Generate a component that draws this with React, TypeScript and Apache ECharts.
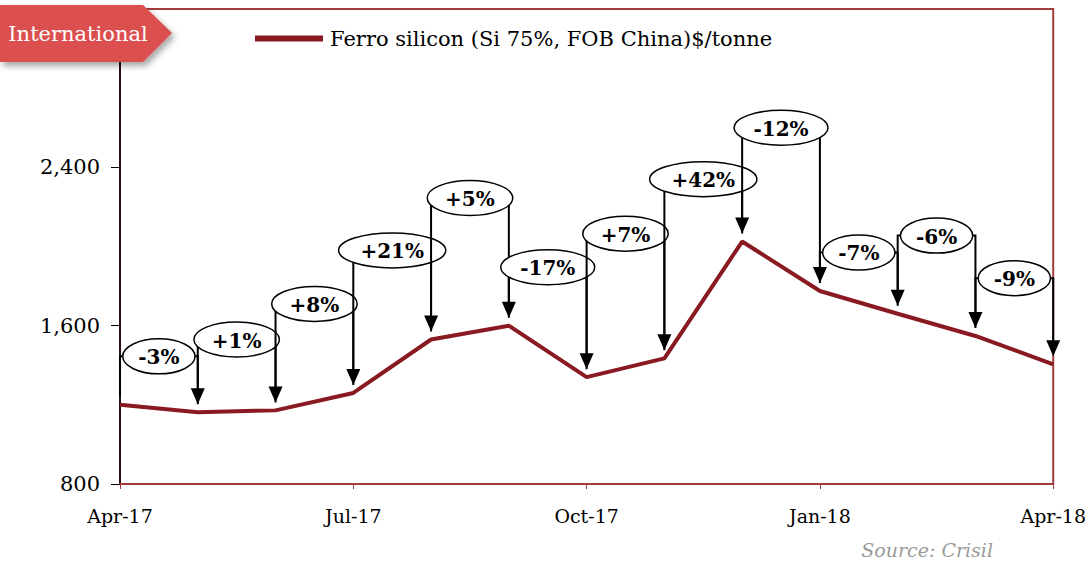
import React, { useEffect, useRef } from "react";
import * as echarts from "echarts";

const months = ["Apr-17", "May-17", "Jun-17", "Jul-17", "Aug-17", "Sep-17", "Oct-17", "Nov-17", "Dec-17", "Jan-18", "Feb-18", "Mar-18", "Apr-18"];
const prices = [1200, 1163, 1172, 1260, 1530, 1600, 1340, 1435, 2025, 1775, 1660, 1548, 1405];
const changeLabels = ["-3%", "+1%", "+8%", "+21%", "+5%", "-17%", "+7%", "+42%", "-12%", "-7%", "-6%", "-9%"];
const labelLevels = [1445, 1530, 1710, 1980, 2245, 1895, 2065, 2340, 2600, 1970, 2055, 1840];
const yTicks = { min: 800, max: 3200, interval: 800 };
const seriesName = "Ferro silicon (Si 75%, FOB China)$/tonne";

const SERIF = '"DejaVu Serif", "Liberation Serif", serif';
const LINE_COLOR = "#8a1a22";
const FRAME_COLOR = "#a23c3c";

let measureCtx: CanvasRenderingContext2D | null = null;
function measure(text: string, font: string): number {
  if (!measureCtx) measureCtx = document.createElement("canvas").getContext("2d");
  if (!measureCtx) return text.length * 12;
  measureCtx.font = font;
  return measureCtx.measureText(text).width;
}

export default function App() {
  const ref = useRef<HTMLDivElement>(null);
  useEffect(() => {
    document.body.style.margin = "0";
    if (!ref.current) return;
    const chart = echarts.init(ref.current, null, { renderer: "svg" });
    const annData = changeLabels.map((_, i) => [i, i + 1, labelLevels[i]]);
    const labelFont = `bold 20px ${SERIF}`;
    chart.setOption({
      animation: false,
      backgroundColor: "#fff",
      grid: {
        left: 120, right: 32, top: 9, bottom: 79,
        show: true, borderColor: FRAME_COLOR, borderWidth: 2, backgroundColor: "transparent",
      },
      legend: {
        left: 250, top: 23,
        itemWidth: 68, itemHeight: 6, icon: "rect",
        data: [{ name: seriesName, itemStyle: { color: LINE_COLOR } }],
        textStyle: { fontFamily: SERIF, fontSize: 21, color: "#000", padding: [0, 0, 0, 2] },
      },
      xAxis: {
        type: "category",
        data: months,
        boundaryGap: false,
        axisLine: { lineStyle: { color: FRAME_COLOR, width: 2 } },
        axisTick: { show: true, interval: 2, length: 5, lineStyle: { color: FRAME_COLOR } },
        axisLabel: { interval: 2, margin: 22, color: "#000", fontFamily: SERIF, fontSize: 19 },
        splitLine: { show: false },
      },
      yAxis: {
        type: "value",
        min: yTicks.min, max: yTicks.max, interval: yTicks.interval,
        axisLine: { show: true, lineStyle: { color: "#000", width: 1.5 } },
        axisTick: { show: true, length: 9, lineStyle: { color: "#000" } },
        axisLabel: {
          margin: 20, color: "#000", fontFamily: SERIF, fontSize: 21,
          formatter: (v: number) => (v >= yTicks.max ? "" : v.toLocaleString("en-US")),
        },
        splitLine: { show: false },
      },
      series: [
        {
          name: seriesName,
          type: "line",
          data: prices,
          symbol: "none",
          lineStyle: { color: LINE_COLOR, width: 4 },
          itemStyle: { color: LINE_COLOR },
          z: 2,
        },
        {
          type: "custom",
          z: 3,
          data: annData,
          encode: { x: [0, 1], y: 2 },
          renderItem: (params: any, api: any) => {
            const i0 = api.value(0);
            const i1 = api.value(1);
            const lvl = api.value(2);
            const [x0, yL] = api.coord([i0, lvl]);
            const [x1] = api.coord([i1, lvl]);
            const t0 = api.coord([i0, prices[i0]])[1] - 8;
            const t1 = api.coord([i1, prices[i1]])[1] - 8;
            const label = changeLabels[params.dataIndex];
            const tw = measure(label, labelFont);
            const rx = tw * 0.78 + 4;
            const ry = 17.5;
            const cx = (x0 + x1) / 2;
            return {
              type: "group",
              children: [
                {
                  type: "polyline",
                  shape: { points: [[x0, t0], [x0, yL], [x1, yL], [x1, t1 - 14]] },
                  style: { stroke: "#000", lineWidth: 2, fill: null },
                },
                {
                  type: "polygon",
                  shape: { points: [[x1 - 7, t1 - 16], [x1 + 7, t1 - 16], [x1, t1]] },
                  style: { fill: "#000" },
                },
                {
                  type: "ellipse",
                  shape: { cx, cy: yL, rx, ry },
                  style: { fill: "#fff", stroke: "#000", lineWidth: 1.5 },
                },
                {
                  type: "text",
                  x: cx,
                  y: yL + 1,
                  style: { text: label, align: "center", verticalAlign: "middle", font: labelFont, fill: "#000" },
                },
              ],
            };
          },
        },
      ],
      graphic: [
        {
          type: "polygon",
          shape: { points: [[0, 5], [143, 5], [172, 33], [143, 62], [0, 62]] },
          style: {
            fill: "#dc4f4f",
            shadowBlur: 6, shadowOffsetX: 3, shadowOffsetY: 4, shadowColor: "rgba(0,0,0,0.35)",
          },
          z: 10,
        },
        {
          type: "text",
          x: 78, y: 34,
          style: { text: "International", align: "center", verticalAlign: "middle", fill: "#fff", font: `21px ${SERIF}` },
          z: 11,
        },
        {
          type: "text",
          right: 96, top: 540,
          style: { text: "Source: Crisil", fill: "#9a9a9a", font: `italic 19px ${SERIF}` },
          z: 11,
        },
      ],
    });
    return () => chart.dispose();
  }, []);
  return <div ref={ref} style={{ width: 1089, height: 563 }} />;
}
